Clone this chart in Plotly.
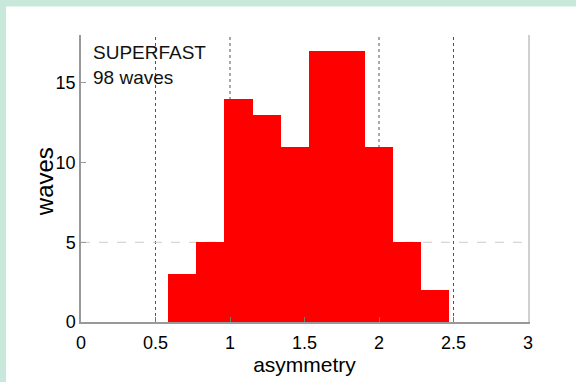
import plotly.graph_objects as go

# Data
bin_edges = [0.586, 0.775, 0.963, 1.152, 1.340, 1.529, 1.718, 1.906, 2.095, 2.284, 2.472]
counts = [3, 5, 14, 13, 11, 17, 17, 11, 5, 2]
x_ticks = [0, 0.5, 1, 1.5, 2, 2.5, 3]
x_tick_labels = ["0", "0.5", "1", "1.5", "2", "2.5", "3"]
x_grid = [0.5, 1, 2, 2.5]
y_ticks = [0, 5, 10, 15]
y_tick_labels = ["0", "5", "10", "15"]
y_grid = [5]

centers = [(a + b) / 2 for a, b in zip(bin_edges[:-1], bin_edges[1:])]
widths = [b - a for a, b in zip(bin_edges[:-1], bin_edges[1:])]

FONT = "Liberation Sans, Arial, sans-serif"

fig = go.Figure()
fig.add_trace(go.Bar(
    x=centers, y=counts, width=widths,
    marker=dict(color="#ff0000", line=dict(width=0)),
    showlegend=False,
))

for gx in x_grid:
    fig.add_vline(x=gx, line=dict(color="#555555", width=1, dash="dot"), layer="below")
for gy in y_grid:
    fig.add_hline(y=gy, line=dict(color="#cccccc", width=1, dash="dash"), layer="below")

# Mint frame strips (top and left) outside the white panel
fig.add_shape(type="rect", xref="paper", yref="paper",
              x0=-0.3, x1=1.2, y0=1.099, y1=1.3,
              fillcolor="#c9e8dc", line=dict(width=0), layer="below")
fig.add_shape(type="rect", xref="paper", yref="paper",
              x0=-0.3, x1=-0.1678, y0=-0.3, y1=1.3,
              fillcolor="#c9e8dc", line=dict(width=0), layer="below")

fig.add_annotation(
    x=0.022, y=0.982, xref="paper", yref="paper",
    xanchor="left", yanchor="top", align="left", showarrow=False,
    text="SUPERFAST<br>98 waves",
    font=dict(family=FONT, size=19, color="#111111"),
)

# y-axis title placed as a rotated annotation to match the reference position
fig.add_annotation(
    x=-0.081, y=0.49, xref="paper", yref="paper",
    xanchor="center", yanchor="middle", showarrow=False,
    text="waves", textangle=-90,
    font=dict(family=FONT, size=24, color="black"),
)

fig.update_layout(
    width=576, height=382,
    margin=dict(l=81, r=48, t=35, b=54),
    paper_bgcolor="white", plot_bgcolor="white",
    bargap=0,
    font=dict(family=FONT, size=18, color="black"),
    xaxis=dict(
        range=[0, 3], tickvals=x_ticks, ticktext=x_tick_labels,
        showgrid=False,
        showline=True, linecolor="#999999", linewidth=1.5,
        ticks="inside", ticklen=5, tickcolor="#777777",
        ticklabelstandoff=4,
        zeroline=False,
        title=dict(text="asymmetry", font=dict(size=21), standoff=2),
        tickfont=dict(size=18),
    ),
    yaxis=dict(
        range=[0, 18], tickvals=y_ticks, ticktext=y_tick_labels,
        showgrid=False,
        showline=True, linecolor="#999999", linewidth=1.5, mirror=False,
        ticks="inside", ticklen=5, tickcolor="#999999",
        zeroline=False,
        tickfont=dict(size=18),
    ),
    yaxis2=dict(
        range=[0, 18], overlaying="y", side="right",
        showline=True, linecolor="#d0d0d0", linewidth=1.5,
        showticklabels=False, showgrid=False, zeroline=False, ticks="",
    ),
)

fig.add_trace(go.Scatter(x=[None], y=[None], yaxis="y2", showlegend=False, hoverinfo="skip"))

fig.write_html("out.html")
